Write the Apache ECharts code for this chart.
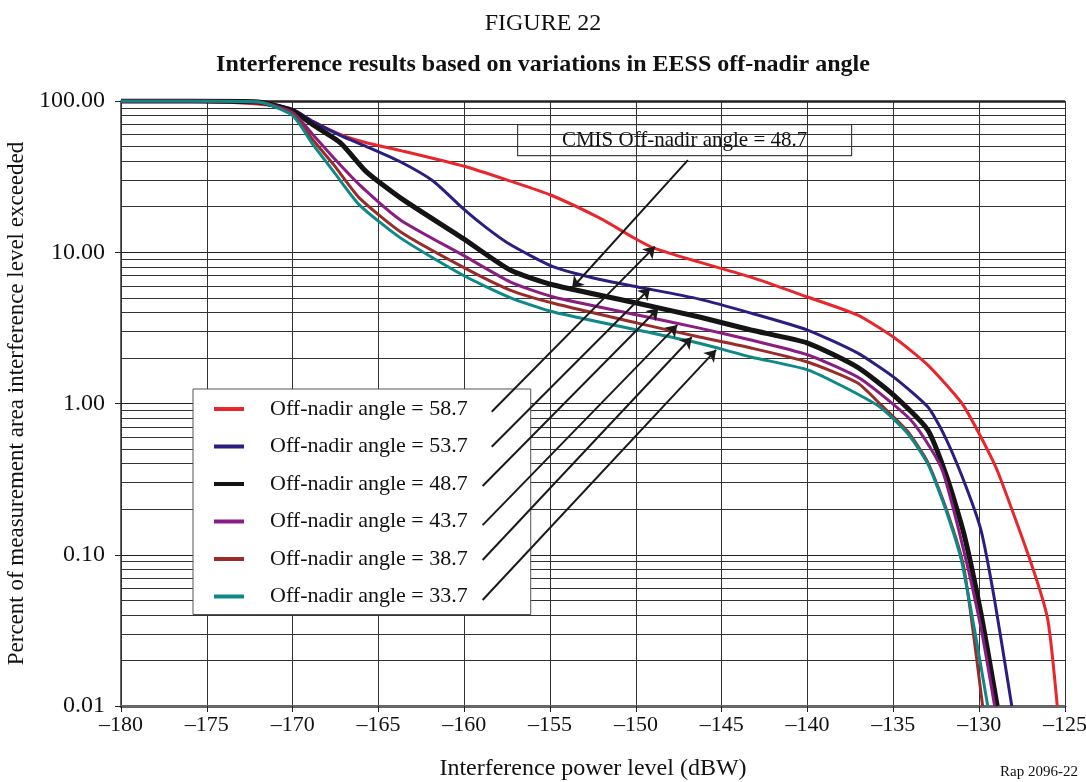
<!DOCTYPE html>
<html>
<head>
<meta charset="utf-8">
<script src="https://cdn.jsdelivr.net/npm/echarts@6/dist/echarts.min.js"></script>
<style>html,body{margin:0;padding:0;background:#fff}#c{width:1086px;height:782px}</style>
</head>
<body>
<div id="c"></div>
<script>
// ---- data (x: interference power level dBW, y: percent exceeded) ----
const seriesNames = ['Off-nadir angle = 58.7','Off-nadir angle = 53.7','Off-nadir angle = 48.7','Off-nadir angle = 43.7','Off-nadir angle = 38.7','Off-nadir angle = 33.7'];
const seriesColors = ['#e8262b','#2a1f80','#141414','#8a1d84','#9a2b2b','#0e8987'];
const seriesWidths = [3, 3, 5, 3, 3, 3];

const red587 = [[-180,100],[-176,99.5],[-173,97],[-171,93],[-170,88],[-168.8,73],[-167.2,60],[-165.7,53],[-163.7,47],[-160,37],[-157.3,29.5],[-155,24],[-152.1,16.8],[-150.2,12.6],[-149,10.7],[-146.3,8.6],[-143.3,6.85],[-140,5.06],[-137.1,3.85],[-135,2.75],[-133,1.8],[-131,1.0],[-129.9,0.6],[-128.9,0.35],[-126.9,0.083],[-126,0.037],[-125.45,0.01]];
const blue537 = [[-180,100],[-176,100],[-172,98.5],[-170,88],[-168.8,73],[-167.2,59],[-165.7,50],[-163.7,39.5],[-161.8,29.5],[-160.1,19.6],[-158.7,14.5],[-157.3,11.2],[-154.8,8.0],[-152.1,6.6],[-149.9,5.9],[-146.3,4.9],[-143.3,3.96],[-140,3.06],[-137.1,2.16],[-135,1.5],[-133,0.95],[-132.1,0.64],[-131,0.33],[-129.9,0.146],[-129.1,0.05],[-128.1,0.01]];
const black487 = [[-180,100],[-176,100],[-172,98.5],[-170,86],[-168.8,69.4],[-167.2,52.7],[-165.7,34],[-163.7,22.8],[-160.1,12.4],[-157.3,7.6],[-154.8,6.07],[-149.9,4.6],[-146.3,3.73],[-143.3,3.06],[-140,2.51],[-137.1,1.74],[-135,1.14],[-133,0.67],[-131.9,0.33],[-130.9,0.139],[-129.9,0.041],[-128.95,0.01]];
const purple437 = [[-180,100],[-176,100],[-172,98.5],[-170,84],[-168.8,59.6],[-167.6,42],[-166.1,27.9],[-163.7,16.3],[-160.1,9.6],[-157.3,6.35],[-154.8,5.06],[-149.9,3.85],[-146.3,3.15],[-143.3,2.63],[-140,2.1],[-137.1,1.5],[-135.8,1.17],[-134,0.78],[-132.85,0.51],[-132.1,0.35],[-130.9,0.107],[-129.9,0.033],[-129.1,0.01]];
const brown387 = [[-180,100],[-176,100],[-172,98.5],[-170,82],[-168.8,55],[-167.6,37.8],[-166.1,22.8],[-163.7,13.6],[-160.1,8.0],[-157.3,5.6],[-154.8,4.6],[-149.9,3.4],[-146.3,2.75],[-143.3,2.33],[-140,1.88],[-137.1,1.37],[-135.8,1.0],[-134.2,0.66],[-133,0.41],[-131.9,0.198],[-130.9,0.083],[-129.8,0.01]];
const teal337 = [[-180,100],[-176,100],[-172,98.5],[-170,80],[-168.8,51.2],[-167.6,34],[-166.1,20.5],[-163.7,12.4],[-160.1,7.07],[-157.3,5.0],[-154.8,4.03],[-149.9,3.06],[-146.3,2.5],[-143.3,2.03],[-140,1.67],[-137.9,1.29],[-135.8,0.95],[-134.2,0.64],[-133,0.40],[-132,0.207],[-131,0.088],[-129.5,0.01]];
const allSeries = [red587, blue537, black487, purple437, brown387, teal337];

// minor horizontal grid values (2..9 in each decade)
const minorGrid = [0.02,0.03,0.04,0.05,0.06,0.07,0.08,0.09,0.2,0.3,0.4,0.5,0.6,0.7,0.8,0.9,2,3,4,5,6,7,8,9,20,30,40,50,60,70,80,90];

// annotation arrows [start, end] in data units
const arrowStarts = [[-158.4,0.883],[-158.4,0.518],[-158.93,0.285],[-158.93,0.157],[-158.93,0.0923],[-158.93,0.0502],[-146.97,40.7]];
const arrowEnds   = [[-148.89,10.9],[-149.18,5.78],[-148.69,4.26],[-147.59,3.30],[-146.75,2.74],[-145.33,2.26],[-153.72,5.80]];

const FONT = '"Liberation Serif","Times New Roman",serif';

const chart = echarts.init(document.getElementById('c'), null, {renderer:'canvas'});

const lineSeries = allSeries.map((d, i) => ({
  name: seriesNames[i],
  type: 'line',
  data: d,
  showSymbol: false,
  symbol: 'none',
  smooth: 0.2,
  lineStyle: {color: seriesColors[i], width: seriesWidths[i]},
  itemStyle: {color: seriesColors[i]},
  z: 3 + i,
  animation: false
}));

const option = {
  animation: false,
  backgroundColor: '#fff',
  title: [
    {text: 'FIGURE 22', left: 'center', top: 7, textStyle: {fontFamily: FONT, fontSize: 24, fontWeight: 'normal', color: '#111'}},
    {text: 'Interference results based on variations in EESS off-nadir angle', left: 'center', top: 48, textStyle: {fontFamily: FONT, fontSize: 24, fontWeight: 'bold', color: '#111'}}
  ],
  grid: {left: 121, right: 21, top: 101, bottom: 76, containLabel: false, outerBoundsMode: 'none'},
  legend: {
    data: seriesNames,
    orient: 'vertical',
    left: 193, top: 389,
    padding: [9, 63, 7, 21],
    itemWidth: 30, itemHeight: 4, itemGap: 15.5,
    icon: 'rect',
    backgroundColor: '#fff',
    borderColor: '#555', borderWidth: 1,
    textStyle: {fontFamily: FONT, fontSize: 22, color: '#111', lineHeight: 22, padding: [0,0,0,21]},
    selectedMode: false,
    z: 2
  },
  xAxis: {
    type: 'value', min: -180, max: -125, interval: 5,
    name: 'Interference power level (dBW)', nameLocation: 'middle', nameGap: 51,
    nameTextStyle: {fontFamily: FONT, fontSize: 24, color: '#111'},
    axisLine: {show: true, lineStyle: {color: '#666', width: 3}},
    axisTick: {show: true, length: 6, lineStyle: {color: '#222'}},
    axisLabel: {fontFamily: FONT, fontSize: 22, color: '#111', margin: 8, formatter: v => String(v).replace('-', '\u2013')},
    splitLine: {show: true, lineStyle: {color: '#333', width: 1}}
  },
  yAxis: {
    type: 'log', logBase: 10, min: 0.01, max: 100, splitNumber: 4,
    name: 'Percent of measurement area interference level exceeded', nameLocation: 'middle', nameGap: 80,
    nameTextStyle: {fontFamily: FONT, fontSize: 23, color: '#111'},
    axisLine: {show: true, lineStyle: {color: '#333', width: 1.5}},
    axisTick: {show: true, length: 6, lineStyle: {color: '#222'}},
    axisLabel: {fontFamily: FONT, fontSize: 24, color: '#111', margin: 16, formatter: v => Number(v).toFixed(2)},
    splitLine: {show: true, lineStyle: {color: '#222', width: 1}}
  },
  graphic: [
    {type: 'group', left: 517, top: 124, z: 20, children: [
      {type: 'rect', shape: {x: 0, y: 0, width: 334, height: 31}, style: {fill: '#fff', stroke: '#444', lineWidth: 1.2}},
      {type: 'text', x: 167, y: 16, style: {text: 'CMIS Off-nadir angle = 48.7', font: '21px ' + FONT, fill: '#111', align: 'center', verticalAlign: 'middle'}}
    ]},
    {type: 'text', right: 8, bottom: 2, z: 20, style: {text: 'Rap 2096-22', font: '15px ' + FONT, fill: '#111'}}
  ],
  series: [
    {
      name: '_grid', type: 'line', data: [], z: 1, silent: true,
      markLine: {silent: true, z: 1, symbol: 'none', label: {show: false},
        lineStyle: {color: '#333', width: 1, type: 'solid'},
        data: minorGrid.map(v => ({yAxis: v})).concat([{yAxis: 100, lineStyle: {color: '#222', width: 2.5, type: 'solid'}}])}
    },
    ...lineSeries,
    {
      name: '_arrows', type: 'line', data: [], z: 10, silent: true,
      markLine: {silent: true, z: 12, symbol: ['none', 'arrow'], symbolSize: 11, label: {show: false},
        lineStyle: {color: '#1a1a1a', width: 2, type: 'solid'},
        data: arrowStarts.map((s, i) => [{coord: s}, {coord: arrowEnds[i]}])}
    }
  ]
};
chart.setOption(option);
</script>
</body>
</html>
